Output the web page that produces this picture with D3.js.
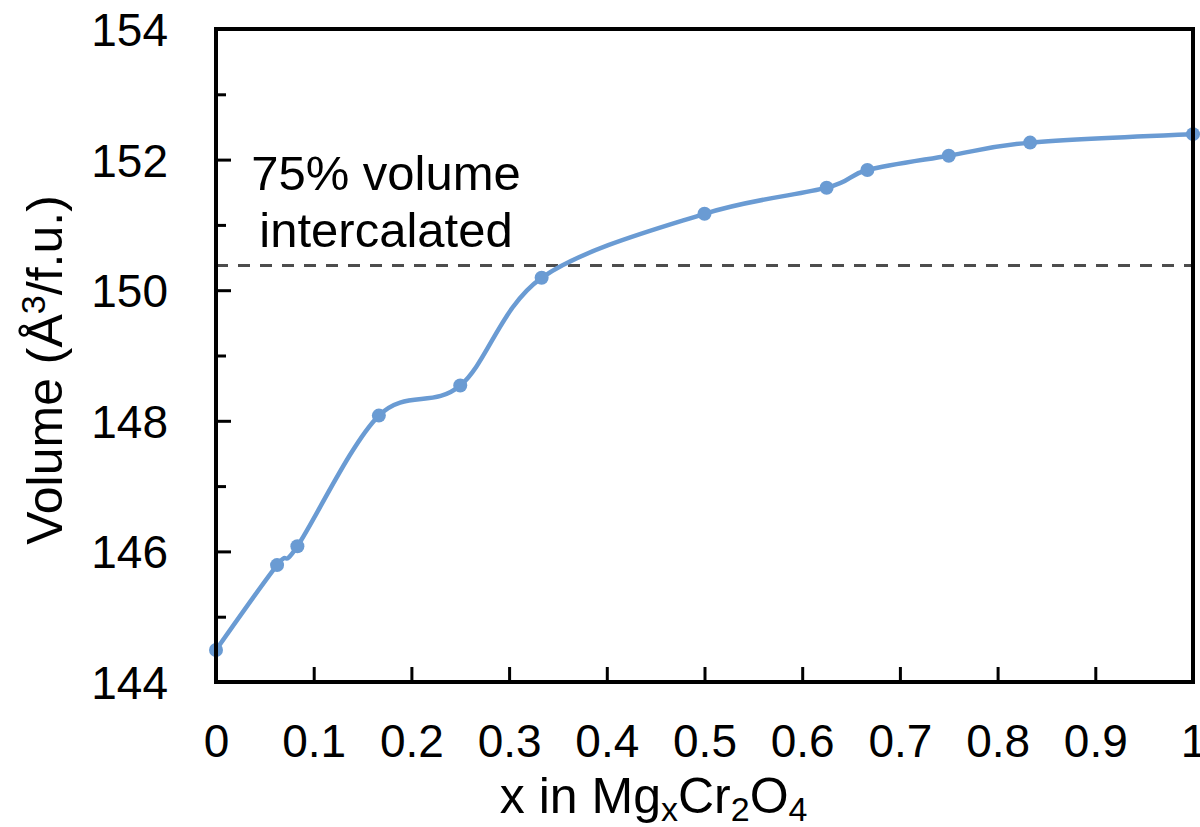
<!DOCTYPE html>
<html>
<head>
<meta charset="utf-8">
<script src="https://cdn.jsdelivr.net/npm/d3@7"></script>
<style>
  body { margin: 0; background: #fff; }
  svg text { font-family: "Liberation Sans", Arial, Helvetica, sans-serif; fill: #000; }
</style>
</head>
<body>
<svg id="chart"></svg>
<script>
// data
var xValues = [0, 0.0625, 0.0833, 0.1667, 0.25, 0.3333, 0.5, 0.625, 0.6667, 0.75, 0.8333, 1];
var volumes = [144.49, 145.79, 146.08, 148.08, 148.54, 150.19, 151.17, 151.57, 151.84, 152.06, 152.26, 152.39];
var xTicks = [0, 0.1, 0.2, 0.3, 0.4, 0.5, 0.6, 0.7, 0.8, 0.9, 1];
var yTicks = [144, 146, 148, 150, 152, 154];
var yMinorTicks = [145, 147, 149, 151, 153];
var refLevel = 150.38;
var noteLines = ["75% volume", "intercalated"];

var width = 1200, height = 827;
var margin = { left: 216, right: 7, top: 29, bottom: 145 };

var svg = d3.select("#chart").attr("width", width).attr("height", height);

//比例尺
var x = d3.scaleLinear().domain([0, 1]).range([margin.left, width - margin.right]);
var y = d3.scaleLinear().domain([144, 154]).range([height - margin.bottom, margin.top]);

var points = xValues.map(function (d, i) { return { x: d, v: volumes[i] }; });

// dashed reference line
svg.append("line")
  .attr("x1", x(0)).attr("x2", x(1))
  .attr("y1", y(refLevel)).attr("y2", y(refLevel))
  .attr("stroke", "#4d4d4d")
  .attr("stroke-width", 3)
  .attr("stroke-dasharray", "12,10");

// smoothed line
var line = d3.line()
  .x(function (d) { return x(d.x); })
  .y(function (d) { return y(d.v); })
  .curve(d3.curveCatmullRom.alpha(0));

svg.append("path")
  .datum(points)
  .attr("fill", "none")
  .attr("stroke", "#6a9bd3")
  .attr("stroke-width", 4.5)
  .attr("stroke-linejoin", "round")
  .attr("d", line);

svg.append("g").selectAll("circle")
  .data(points)
  .enter().append("circle")
  .attr("cx", function (d) { return x(d.x); })
  .attr("cy", function (d) { return y(d.v); })
  .attr("r", 7)
  .attr("fill", "#6a9bd3");

//左侧刻度
var yAxis = d3.axisLeft(y).tickValues(yTicks).tickSizeInner(-15).tickSizeOuter(0).tickPadding(48);
var gy = svg.append("g").attr("transform", "translate(" + margin.left + ",0)").call(yAxis);
gy.selectAll(".tick line").attr("stroke-width", 3);
gy.selectAll(".tick text").style("font-size", "46px").attr("dy", "0.36em");
gy.select(".domain").remove();

var gyMinor = svg.append("g").attr("transform", "translate(" + margin.left + ",0)")
  .call(d3.axisLeft(y).tickValues(yMinorTicks).tickSizeInner(-10).tickSizeOuter(0).tickFormat(""));
gyMinor.selectAll(".tick line").attr("stroke-width", 3);
gyMinor.select(".domain").remove();

//下侧刻度
var xAxis = d3.axisBottom(x).tickValues(xTicks).tickSizeInner(-15).tickSizeOuter(0).tickPadding(42)
  .tickFormat(function (d) { return d3.format("")(+d.toFixed(1)); });
var gx = svg.append("g").attr("transform", "translate(0," + (height - margin.bottom) + ")").call(xAxis);
gx.selectAll(".tick line").attr("stroke-width", 3);
gx.selectAll(".tick text").style("font-size", "46px");
gx.select(".domain").remove();

// frame
svg.append("rect")
  .attr("x", x(0)).attr("y", y(154))
  .attr("width", x(1) - x(0)).attr("height", y(144) - y(154))
  .attr("fill", "none")
  .attr("stroke", "#000")
  .attr("stroke-width", 4);

// annotation
var note = svg.append("text")
  .attr("text-anchor", "middle")
  .style("font-size", "49px");
note.selectAll("tspan")
  .data(noteLines)
  .enter().append("tspan")
  .attr("x", x(0.174))
  .attr("y", function (d, i) { return 190 + i * 57; })
  .text(function (d) { return d; });

// x title
var xt = svg.append("text")
  .attr("x", x(0.448)).attr("y", 813)
  .attr("text-anchor", "middle")
  .style("font-size", "50px");
xt.append("tspan").text("x in Mg");
xt.append("tspan").attr("dy", 8).style("font-size", "34px").text("x");
xt.append("tspan").attr("dy", -8).text("Cr");
xt.append("tspan").attr("dy", 8).style("font-size", "34px").text("2");
xt.append("tspan").attr("dy", -8).text("O");
xt.append("tspan").attr("dy", 8).style("font-size", "34px").text("4");

// y title
var yt = svg.append("text")
  .attr("transform", "translate(62," + 370 + ") rotate(-90)")
  .attr("text-anchor", "middle")
  .style("font-size", "50px");
yt.append("tspan").text("Volume (Å");
yt.append("tspan").attr("dy", -17).style("font-size", "34px").text("3");
yt.append("tspan").attr("dy", 17).text("/f.u.)");
</script>
</body>
</html>
